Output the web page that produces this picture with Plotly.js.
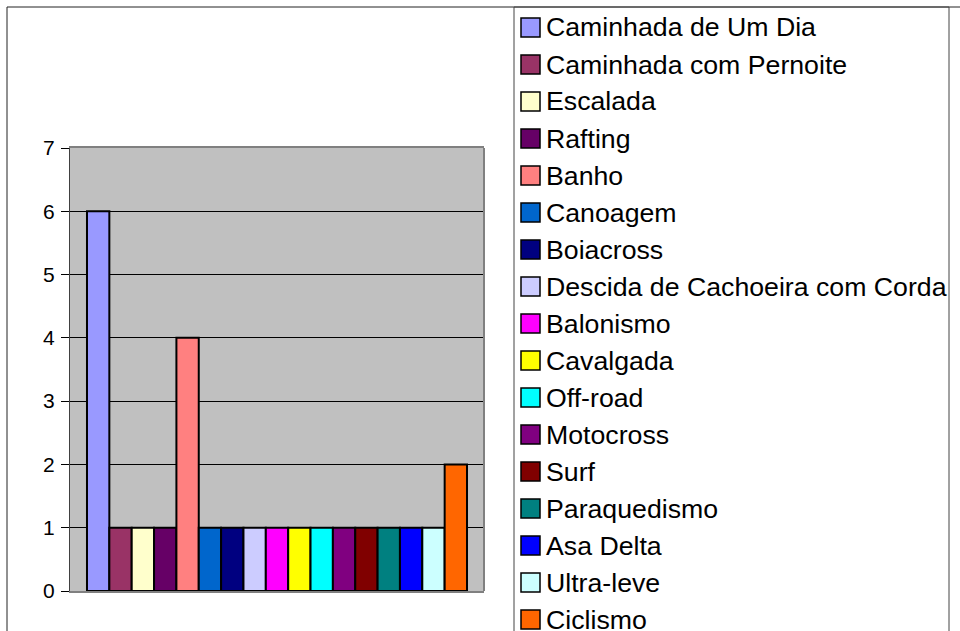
<!DOCTYPE html>
<html>
<head>
<meta charset="utf-8">
<script src="https://cdn.plot.ly/plotly-3.0.1.min.js"></script>
<style>html,body{margin:0;padding:0;background:#fff;}#chart{width:960px;height:631px;}</style>
</head>
<body>
<div id="chart"></div>
<script>
// ---- data ----
const categories = [
  "Caminhada de Um Dia", "Caminhada com Pernoite", "Escalada", "Rafting", "Banho",
  "Canoagem", "Boiacross", "Descida de Cachoeira com Corda", "Balonismo", "Cavalgada",
  "Off-road", "Motocross", "Surf", "Paraquedismo", "Asa Delta", "Ultra-leve", "Ciclismo"
];
const values = [6, 1, 1, 1, 4, 1, 1, 1, 1, 1, 1, 1, 1, 1, 1, 1, 2];
const colors = [
  "#9999FF", "#993366", "#FFFFCC", "#660066", "#FF8080",
  "#0066CC", "#000080", "#CCCCFF", "#FF00FF", "#FFFF00",
  "#00FFFF", "#800080", "#800000", "#008080", "#0000FF", "#CCFFFF", "#FF6600"
];
const yTickValues = [0, 1, 2, 3, 4, 5, 6, 7];
const yTickLabels = ["0", "1", "2", "3", "4", "5", "6", "7"];

// ---- layout geometry (pixels) ----
const W = 960, H = 631;
const PL = 70, PR = 484, PT = 148, PB = 591;
const fx = px => (px - PL) / (PR - PL);
const fy = py => (PB - py) / (PB - PT);
const FONT = '"Liberation Sans", Arial, Helvetica, sans-serif';

const legendRow0 = 27.5, legendPitch = 37, swatch = 19;

const shapes = [];
const annotations = [];

// outer chart border
shapes.push({type: 'rect', xref: 'paper', yref: 'paper',
  x0: fx(7), x1: fx(1100), y0: fy(800), y1: fy(7),
  line: {color: '#222222', width: 1}, fillcolor: 'rgba(0,0,0,0)'});
// right plot border (gray)
shapes.push({type: 'line', xref: 'paper', yref: 'paper',
  x0: 1, x1: 1, y0: 0, y1: 1, line: {color: '#808080', width: 2}});
// legend box
shapes.push({type: 'rect', xref: 'paper', yref: 'paper',
  x0: fx(514), x1: fx(949), y0: fy(800), y1: fy(7),
  line: {color: '#444444', width: 1}, fillcolor: 'rgba(0,0,0,0)'});

categories.forEach((name, i) => {
  const c = legendRow0 + i * legendPitch;
  shapes.push({type: 'rect', xref: 'paper', yref: 'paper',
    x0: fx(521), x1: fx(521 + swatch), y0: fy(c + swatch / 2), y1: fy(c - swatch / 2),
    line: {color: '#000000', width: 1.5}, fillcolor: colors[i]});
  annotations.push({xref: 'paper', yref: 'paper', x: fx(544), y: fy(c),
    xanchor: 'left', yanchor: 'middle', showarrow: false, text: name,
    font: {family: FONT, size: 26.7, color: '#000000'}});
});

const trace = {
  type: 'bar',
  x: categories,
  y: values,
  marker: {color: colors, line: {color: '#000000', width: 2}},
  hoverinfo: 'x+y',
  showlegend: false
};

const layout = {
  width: W, height: H,
  margin: {l: PL, r: W - PR, t: PT, b: H - PB, pad: 0},
  paper_bgcolor: '#ffffff',
  plot_bgcolor: '#c0c0c0',
  bargap: 0,
  showlegend: false,
  font: {family: FONT, color: '#000000'},
  xaxis: {
    type: 'category',
    range: [-1.26, categories.length - 1 + 1.26],
    showticklabels: false,
    ticks: '',
    showgrid: false,
    zeroline: false,
    showline: true, mirror: true,
    linecolor: '#808080', linewidth: 2,
    fixedrange: true
  },
  yaxis: {
    range: [0, 7],
    tickvals: yTickValues,
    ticktext: yTickLabels,
    ticks: 'outside', ticklen: 8, tickwidth: 1, tickcolor: '#000000',
    tickfont: {family: FONT, size: 21, color: '#000000'},
    ticklabelstandoff: 2,
    showgrid: true, gridcolor: '#000000', gridwidth: 1,
    zeroline: false,
    showline: true, linecolor: '#404040', linewidth: 1,
    fixedrange: true
  },
  shapes: shapes,
  annotations: annotations
};

Plotly.newPlot('chart', [trace], layout, {displayModeBar: false, staticPlot: true});
</script>
</body>
</html>
